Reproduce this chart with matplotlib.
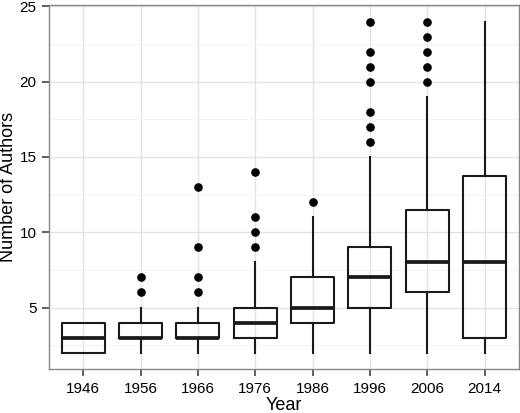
import matplotlib
matplotlib.use('Agg')
import matplotlib.pyplot as plt
from matplotlib.ticker import MultipleLocator

# Box statistics
years = ['1946', '1956', '1966', '1976', '1986', '1996', '2006', '2014']
whisker_low = [2, 2, 2, 2, 2, 2, 2, 2]
q1 = [2, 3, 3, 3, 4, 5, 6, 3]
median = [3, 3, 3, 4, 5, 7, 8, 8]
q3 = [4, 4, 4, 5, 7, 9, 11.5, 13.75]
whisker_high = [4, 5, 5, 8, 11, 15, 19, 24]
outliers = [
    [],
    [6, 7],
    [6, 7, 9, 13],
    [9, 10, 11, 14],
    [12],
    [16, 17, 18, 20, 21, 22, 24],
    [20, 21, 22, 23, 24],
    [],
]


def main():
    plt.rcParams['font.family'] = ['Liberation Sans', 'DejaVu Sans']

    fig = plt.figure(figsize=(5.2, 4.13), dpi=100)
    ax = fig.add_axes([0.094, 0.106, 0.904, 0.882])

    stats = []
    for i in range(len(years)):
        stats.append({
            'whislo': whisker_low[i], 'q1': q1[i], 'med': median[i],
            'q3': q3[i], 'whishi': whisker_high[i], 'fliers': outliers[i],
        })

    positions = range(1, len(years) + 1)
    ax.bxp(stats, positions=positions, widths=0.75, showcaps=False,
           boxprops=dict(color='#1a1a1a', linewidth=1.5),
           whiskerprops=dict(color='#1a1a1a', linewidth=1.5),
           medianprops=dict(color='#1a1a1a', linewidth=2.7, solid_capstyle='butt'),
           flierprops=dict(marker='o', markerfacecolor='black',
                           markeredgecolor='black', markersize=5.2),
           zorder=3)

    ax.set_xlim(0.4, 8.6)
    ax.set_ylim(0.9, 25.1)
    ax.set_xticks(list(positions))
    ax.set_xticklabels(years)
    ax.yaxis.set_major_locator(MultipleLocator(5))
    ax.yaxis.set_minor_locator(MultipleLocator(2.5))
    ax.set_yticks([5, 10, 15, 20, 25])

    ax.grid(True, which='major', color='#E3E3E3', linewidth=1.0, zorder=0)
    ax.grid(True, which='minor', axis='y', color='#F3F3F3', linewidth=0.8, zorder=0)
    ax.set_axisbelow(True)

    for spine in ax.spines.values():
        spine.set_color('#888888')
        spine.set_linewidth(1.0)

    ax.tick_params(axis='both', which='major', length=5, width=1.1,
                   color='#333333', labelsize=11, labelcolor='black', pad=4)
    ax.tick_params(axis='y', which='minor', length=0)

    # axis titles placed on the figure so they sit where the reference has them
    fig.text(0.5 * (0.094 + 0.998), 1 - 406 / 413, 'Year', fontsize=13,
             ha='center', va='center')
    fig.text(9 / 520, 0.106 + 0.882 / 2, 'Number of Authors', fontsize=13,
             rotation=90, ha='center', va='center')

    fig.savefig('out.png', dpi=100)


if __name__ == '__main__':
    main()
